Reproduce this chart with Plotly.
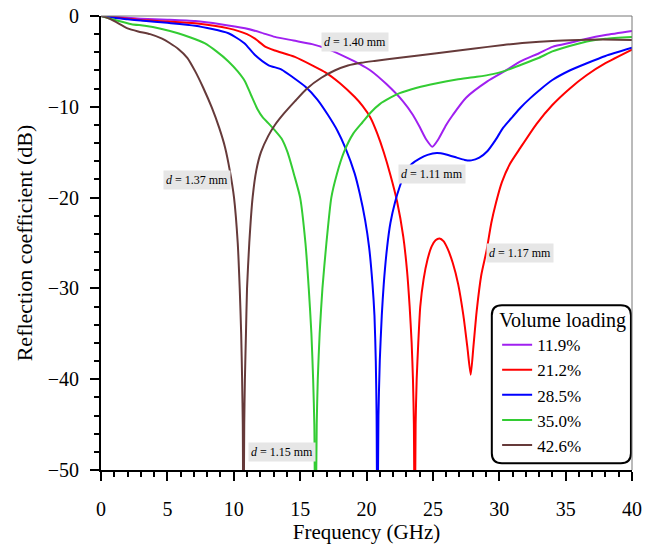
import plotly.graph_objects as go

# ---- data ----
labels = ["11.9%", "21.2%", "28.5%", "35.0%", "42.6%"]
colors = ["#a020f0", "#ff0000", "#0000ff", "#33cc33", "#663a3a"]

x_119 = [0, 1, 2, 3, 5, 7.1, 9, 10.85, 12, 13.1, 14.5, 15.9, 17.2, 18.4, 19.5, 20.3, 21.5, 22.75, 23.5, 24.0,
         24.5, 24.96, 25.4, 26.0, 26.5, 27.5, 29.1, 30.5, 31.6, 33, 34, 35.5, 36.6, 38, 40]
y_119 = [0, -0.1, -0.2, -0.3, -0.4, -0.55, -0.9, -1.36, -1.8, -2.3, -2.7, -3.1, -3.7, -4.5, -5.3, -6.0, -7.5,
         -9.4, -10.9, -12.2, -13.6, -14.4, -13.6, -12.0, -10.9, -9.0, -7.2, -6.0, -5.0, -4.1, -3.4, -2.9, -2.5,
         -2.1, -1.65]

x_212 = [0, 1, 2, 3, 5, 7.1, 9.6, 11, 11.6, 12.4, 13.1, 14.6, 16, 16.9, 18, 19.1, 19.7, 20.3, 20.8, 21.3, 21.8,
         22.3, 22.77, 23.05, 23.25, 23.4, 23.5, 23.57, 23.63, 23.7, 23.78, 23.9, 24.05, 24.3, 24.6, 24.9, 25.2,
         25.5, 25.8, 26.1, 26.5, 26.9, 27.3, 27.6, 27.85, 28.05, 28.3, 28.65, 29.05, 29.4, 29.75, 30.2, 30.8,
         31.6, 32.8, 34, 35.3, 36.6, 38, 40]
y_212 = [0, -0.15, -0.3, -0.45, -0.6, -0.8, -1.36, -2.0, -2.5, -3.4, -3.8, -4.5, -5.5, -6.2, -7.4, -8.9, -9.9,
         -11.2, -12.9, -15.0, -17.5, -20.4, -24.3, -28, -32, -36, -40, -45, -60, -45, -40, -36, -32, -29, -26.8,
         -25.4, -24.7, -24.5, -24.8, -25.6, -27.2, -29.5, -33.0, -36.5, -39.5, -36.5, -32.5, -28.5, -25.8, -22.8,
         -20.6, -18.3, -16.3, -14.5, -11.9, -9.8, -8.0, -6.5, -5.2, -3.7]

x_285 = [0, 1, 2, 3, 5, 7.1, 9.6, 10.8, 11.6, 12.6, 13.6, 14.5, 15.4, 16.3, 17.1, 17.8, 18.4, 19.1, 19.5, 19.9,
         20.2, 20.45, 20.6, 20.7, 20.76, 20.82, 20.9, 21.0, 21.15, 21.3, 21.55, 21.8, 22.15, 22.5, 22.9, 23.4,
         24.0, 24.6, 25.3, 26.0, 26.8, 27.4, 27.9, 28.5, 29.1, 29.7, 30.3, 31.0, 31.6, 32.3, 33, 34, 35.3,
         36.6, 38, 40]
y_285 = [0, -0.2, -0.35, -0.5, -0.75, -1.07, -1.9, -3.0, -4.3, -5.4, -5.9, -6.8, -7.8, -9.2, -10.9, -12.6, -14.5,
         -17.3, -19.6, -22.5, -25.5, -29.5, -33, -38, -44, -60, -44, -38, -33, -29.5, -25.5, -22.8, -20.5, -18.8,
         -17.3, -16.3, -15.7, -15.3, -15.1, -15.25, -15.6, -15.85, -15.9, -15.6, -14.9, -13.7, -12.3, -11.1,
         -10.1, -9.1, -8.2, -7.05, -6.0, -5.2, -4.4, -3.5]

x_350 = [0, 1.05, 2.3, 3.3, 4.5, 5.8, 6.8, 7.8, 8.7, 9.6, 10.3, 10.85, 11.3, 11.8, 12.2, 12.6, 13.1, 13.6, 14.05,
         14.55, 15.0, 15.4, 15.65, 15.85, 15.98, 16.07, 16.15, 16.25, 16.33, 16.47, 16.68, 16.98, 17.35, 17.75,
         18.3, 19.0, 19.7, 20.3, 21.0, 21.8, 22.5, 23.8, 25.3, 26.8, 28.3, 29.5, 30.3, 31.6, 33, 34, 35.3,
         36.6, 38, 40]
y_350 = [0, -0.44, -0.9, -1.07, -1.4, -1.9, -2.4, -3.0, -3.9, -5.0, -6.1, -7.2, -8.7, -10.3, -11.2, -11.8, -12.6,
         -13.5, -15.0, -17.5, -20, -25, -30, -35, -40, -45, -60, -45, -40, -35, -30, -25, -20, -17.5, -15,
         -12.95, -11.7, -10.65, -9.7, -9.0, -8.5, -7.9, -7.4, -7.0, -6.7, -6.4, -6.1, -5.4, -4.6, -3.9, -3.3,
         -2.8, -2.5, -2.3]

x_426 = [0, 0.5, 1.05, 2.0, 2.8, 3.7, 4.6, 5.2, 5.8, 6.5, 7.1, 7.7, 8.35, 8.9, 9.35, 9.7, 10.02, 10.3, 10.45,
         10.56, 10.63, 10.68, 10.73, 10.79, 10.84, 10.92, 11.0, 11.17, 11.42, 11.7, 12.05, 12.6, 13.1, 13.8,
         14.6, 15.5, 16.6, 17.6, 18.6, 19.6, 20.6, 22.5, 25.3, 28, 30.3, 32, 34, 36, 37.8, 40]
y_426 = [0, -0.2, -0.6, -1.36, -1.7, -2.0, -2.5, -3.0, -3.6, -4.6, -6.1, -7.9, -10.1, -12.3, -14.5, -17, -20,
         -25, -30, -35, -40, -45, -60, -45, -40, -35, -30, -25, -20, -17, -15, -13.2, -12.0, -10.7, -9.4, -8.0,
         -6.8, -6.0, -5.45, -5.15, -4.95, -4.6, -4.1, -3.6, -3.2, -2.95, -2.75, -2.65, -2.6, -2.65]

series_x = [x_119, x_212, x_285, x_350, x_426]
series_y = [y_119, y_212, y_285, y_350, y_426]

ann_text = ["d = 1.37 mm", "d = 1.40 mm", "d = 1.11 mm", "d = 1.17 mm", "d = 1.15 mm"]
ann_x = [7.2, 19.1, 24.9, 31.6, 13.6]
ann_y = [-18.1, -2.9, -17.4, -26.1, -48.0]

FONT = "Times New Roman, Liberation Serif, serif"

fig = go.Figure()
for xs, ys, lab, col in zip(series_x, series_y, labels, colors):
    fig.add_trace(go.Scatter(x=xs, y=ys, mode="lines", name=lab,
                             line=dict(color=col, width=2, shape="spline", smoothing=0.6)))

for t, ax_, ay_ in zip(ann_text, ann_x, ann_y):
    txt = "<i>" + t[0] + "</i>" + t[1:]
    fig.add_annotation(x=ax_, y=ay_, text=txt, showarrow=False,
                       font=dict(family=FONT, size=12, color="black"),
                       bgcolor="#e6e6e6", borderpad=2)

# rounded legend frame
x0, x1, y0, y1 = 0.736, 0.998, 0.015, 0.363
rx, ry = 0.019, 0.022
path = (f"M {x0+rx},{y0} L {x1-rx},{y0} Q {x1},{y0} {x1},{y0+ry} L {x1},{y1-ry} "
        f"Q {x1},{y1} {x1-rx},{y1} L {x0+rx},{y1} Q {x0},{y1} {x0},{y1-ry} L {x0},{y0+ry} "
        f"Q {x0},{y0} {x0+rx},{y0} Z")
fig.add_shape(type="path", path=path, xref="paper", yref="paper",
              line=dict(color="black", width=2), fillcolor="white", layer="below")
# light frame top/right
fig.add_shape(type="line", xref="paper", yref="paper", x0=0, x1=1, y0=1, y1=1,
              line=dict(color="#777777", width=1))
fig.add_shape(type="line", xref="paper", yref="paper", x0=1, x1=1, y0=0, y1=1,
              line=dict(color="#777777", width=1))

fig.update_layout(
    width=657, height=546,
    margin=dict(l=101, r=25, t=16, b=76),
    plot_bgcolor="rgba(0,0,0,0)", paper_bgcolor="white",
    font=dict(family=FONT, color="black", size=20),
    legend=dict(title=dict(text="Volume loading", font=dict(size=20, family=FONT, color="black")),
                font=dict(size=17, family=FONT, color="black"),
                x=0.746, y=0.372, xanchor="left", yanchor="top",
                bgcolor="rgba(0,0,0,0)", borderwidth=0, tracegroupgap=0),
    xaxis=dict(range=[0, 40], tickmode="linear", tick0=0, dtick=5, ticks="outside", ticklen=9,
               tickwidth=2, tickcolor="black", showline=True, linecolor="black", linewidth=2,
               showgrid=False, zeroline=False, ticklabelstandoff=11, automargin=False,
               minor=dict(dtick=1, ticks="outside", ticklen=5, tickwidth=1.5, tickcolor="black", showgrid=False),
               title=dict(text="Frequency (GHz)", font=dict(size=21, family=FONT, color="black"), standoff=5),
               tickfont=dict(size=20, family=FONT, color="black")),
    yaxis=dict(range=[-50, 0], tickmode="linear", tick0=0, dtick=10, ticks="outside", ticklen=9,
               tickwidth=2, tickcolor="black", showline=True, linecolor="black", linewidth=2,
               showgrid=False, zeroline=False, ticklabelstandoff=7, automargin=False,
               minor=dict(dtick=2, ticks="outside", ticklen=5, tickwidth=1.5, tickcolor="black", showgrid=False),
               title=dict(text="Reflection coefficient (dB)", font=dict(size=22, family=FONT, color="black"),
                          standoff=9),
               tickfont=dict(size=20, family=FONT, color="black")),
)

fig.write_html("out.html")
